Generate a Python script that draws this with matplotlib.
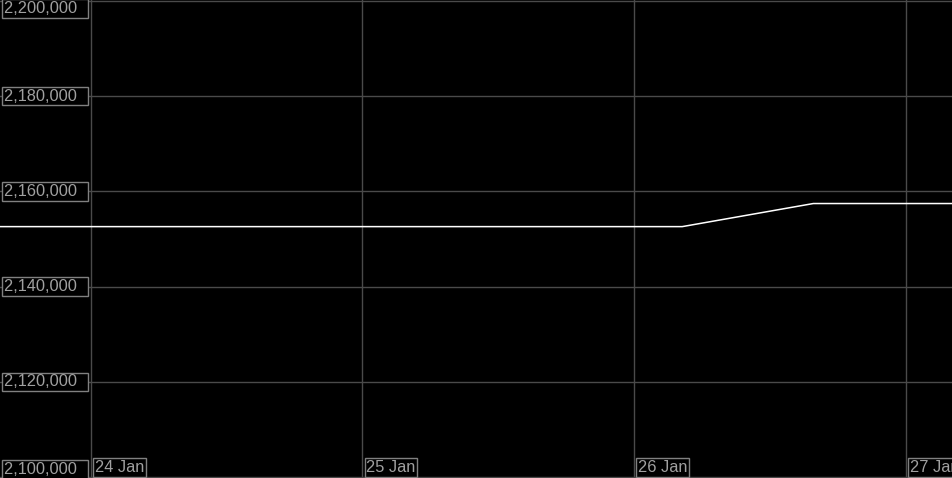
import pandas as pd
import matplotlib
matplotlib.use('Agg')
import matplotlib.pyplot as plt
import matplotlib.dates as mdates

# price series
times = pd.to_datetime(['2024-01-23 16:00', '2024-01-26 04:15', '2024-01-26 15:50', '2024-01-27 04:10'])
values = [2152600, 2152600, 2157450, 2157450]

y_ticks = [2100000, 2120000, 2140000, 2160000, 2180000, 2200000]
x_ticks = pd.to_datetime(['2024-01-24', '2024-01-25', '2024-01-26', '2024-01-27'])
x_labels = ['24 Jan', '25 Jan', '26 Jan', '27 Jan']

grid_col = '#4a4a4a'
text_col = '#a0a0a0'
box_col = '#808080'

fig = plt.figure(figsize=(9.53, 4.78), dpi=100, facecolor='black')
ax = fig.add_axes([0, 0, 1, 1])
ax.set_facecolor('black')

ax.plot(times, values, color='white', linewidth=1.1, zorder=3)

ax.set_xlim(times[0], times[-1])
ax.set_ylim(2100000 - 200, 2200000 + 200)

for y in y_ticks:
    ax.axhline(y, color=grid_col, linewidth=1, zorder=1)
for x in x_ticks:
    ax.axvline(x, color=grid_col, linewidth=1, zorder=1)

for s in ax.spines.values():
    s.set_visible(False)
ax.set_xticks([])
ax.set_yticks([])

box = dict(facecolor='black', edgecolor=box_col, linewidth=1, pad=1.2)
font = dict(family='Liberation Sans', size=11.8, color=text_col)

for y in y_ticks:
    va = 'center'
    if y == y_ticks[-1]:
        va = 'top'
    elif y == y_ticks[0]:
        va = 'bottom'
    ax.annotate(f'{y:,}' + '  ', xy=(0, y), xycoords=('axes fraction', 'data'),
                xytext=(4, 0), textcoords='offset pixels', ha='left', va=va,
                bbox=box, zorder=4, **font)

for x, lab in zip(x_ticks, x_labels):
    ax.annotate(lab, xy=(mdates.date2num(x), 0), xycoords=('data', 'axes fraction'),
                xytext=(4, 3), textcoords='offset pixels', ha='left', va='bottom',
                bbox=box, zorder=4, **font)

fig.savefig('out.png', dpi=100, facecolor='black')
